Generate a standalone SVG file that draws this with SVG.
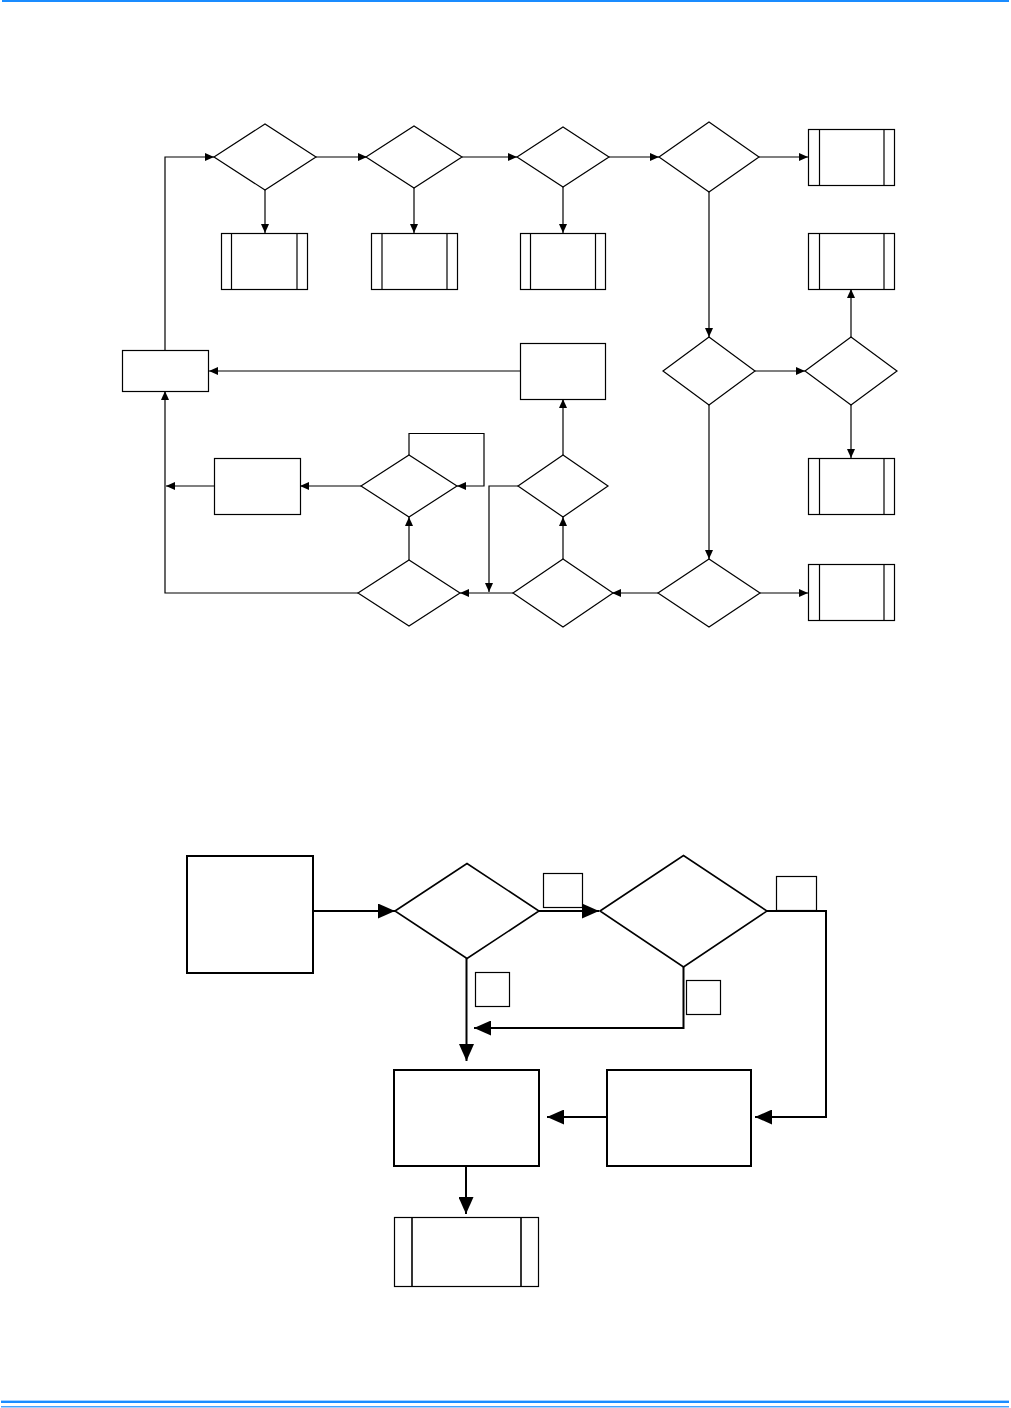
<svg xmlns="http://www.w3.org/2000/svg" width="1011" height="1408" viewBox="0 0 1011 1408">
<style>
.n{fill:#fff;stroke:#000;stroke-width:1.2}
.nb{fill:#fff;stroke:#000;stroke-width:2}
.nd{fill:#fff;stroke:#000;stroke-width:1.6}
.c{fill:none;stroke:#000;stroke-width:1.2}
.cb{fill:none;stroke:#000;stroke-width:2}
.in{stroke:#000;stroke-width:1.2}
.inb{stroke:#000;stroke-width:1.6}
</style>
<defs>
<marker id="a" viewBox="0 0 10 10" refX="10" refY="5" markerWidth="9" markerHeight="8" markerUnits="userSpaceOnUse" orient="auto" preserveAspectRatio="none"><path d="M0,0L10,5L0,10z" fill="#000"/></marker>
<marker id="ab" viewBox="0 0 10 10" refX="10" refY="5" markerWidth="17" markerHeight="15" markerUnits="userSpaceOnUse" orient="auto" preserveAspectRatio="none"><path d="M0,0L10,5L0,10z" fill="#000"/></marker>
</defs>
<rect x="2" y="0" width="1007" height="2" fill="#1a8cff"/>
<rect x="1" y="1400.6" width="1008" height="2.4" fill="#1a8cff"/>
<rect x="1" y="1406.2" width="1008" height="1.2" fill="#1a8cff"/>

<g id="connectors">
<path class="c" d="M165,351V157H214" marker-end="url(#a)"/>
<path class="c" d="M316,157H367" marker-end="url(#a)"/>
<path class="c" d="M462,157H517" marker-end="url(#a)"/>
<path class="c" d="M609,157H659" marker-end="url(#a)"/>
<path class="c" d="M759,157H808" marker-end="url(#a)"/>
<path class="c" d="M265,190V233" marker-end="url(#a)"/>
<path class="c" d="M414,188V233" marker-end="url(#a)"/>
<path class="c" d="M563,187V233" marker-end="url(#a)"/>
<path class="c" d="M709,192V337" marker-end="url(#a)"/>
<path class="c" d="M755,371H805" marker-end="url(#a)"/>
<path class="c" d="M851,337V289" marker-end="url(#a)"/>
<path class="c" d="M851,405V458" marker-end="url(#a)"/>
<path class="c" d="M709,405V559" marker-end="url(#a)"/>
<path class="c" d="M760,593H808" marker-end="url(#a)"/>
<path class="c" d="M658,593H612" marker-end="url(#a)"/>
<path class="c" d="M513,593H460" marker-end="url(#a)"/>
<path class="c" d="M563,559V517" marker-end="url(#a)"/>
<path class="c" d="M563,455V399" marker-end="url(#a)"/>
<path class="c" d="M520,371H209" marker-end="url(#a)"/>
<path class="c" d="M518,486H489V592" marker-end="url(#a)"/>
<path class="c" d="M409,560V517" marker-end="url(#a)"/>
<path class="c" d="M409,455V433.5H484V486H457" marker-end="url(#a)"/>
<path class="c" d="M361,486H300" marker-end="url(#a)"/>
<path class="c" d="M214,486H166" marker-end="url(#a)"/>
<path class="c" d="M358,593H165V391" marker-end="url(#a)"/>

<path class="cb" d="M313,911H395" marker-end="url(#ab)"/>
<path class="cb" d="M539,911H599" marker-end="url(#ab)"/>
<path class="cb" d="M466.5,958V1061" marker-end="url(#ab)"/>
<path class="cb" d="M683.5,967V1028H474" marker-end="url(#ab)"/>
<path class="cb" d="M767,911H826V1117H755" marker-end="url(#ab)"/>
<path class="cb" d="M607,1117H547" marker-end="url(#ab)"/>
<path class="cb" d="M466,1166V1214" marker-end="url(#ab)"/>
</g>

<g id="d1"><polygon class="n" points="214,157 265,124 316,157 265,190"/></g>
<g id="d2"><polygon class="n" points="366,157 414,126 462,157 414,188"/></g>
<g id="d3"><polygon class="n" points="517,157 563,127 609,157 563,187"/></g>
<g id="d4"><polygon class="n" points="659,157 709,122 759,157 709,192"/></g>
<g id="d5"><polygon class="n" points="663,371 709,337 755,371 709,405"/></g>
<g id="d6"><polygon class="n" points="805,371 851,337 897,371 851,405"/></g>
<g id="d7"><polygon class="n" points="658,593 709,559 760,593 709,627"/></g>
<g id="d8"><polygon class="n" points="513,593 563,559 613,593 563,627"/></g>
<g id="d9"><polygon class="n" points="358,593 409,560 460,593 409,626"/></g>
<g id="d10"><polygon class="n" points="518,486 563,455 608,486 563,517"/></g>
<g id="d11"><polygon class="n" points="361,486 409,455 457,486 409,517"/></g>

<g id="p1"><rect class="n" x="221.5" y="233.5" width="86" height="56"/><line class="in" x1="231.5" y1="233.5" x2="231.5" y2="289.5"/><line class="in" x1="297" y1="233.5" x2="297" y2="289.5"/></g>
<g id="p2"><rect class="n" x="371.5" y="233.5" width="86" height="56"/><line class="in" x1="382" y1="233.5" x2="382" y2="289.5"/><line class="in" x1="447" y1="233.5" x2="447" y2="289.5"/></g>
<g id="p3"><rect class="n" x="520.5" y="233.5" width="85" height="56"/><line class="in" x1="530.5" y1="233.5" x2="530.5" y2="289.5"/><line class="in" x1="595.5" y1="233.5" x2="595.5" y2="289.5"/></g>
<g id="p4"><rect class="n" x="808.5" y="129.5" width="86" height="56"/><line class="in" x1="819.5" y1="129.5" x2="819.5" y2="185.5"/><line class="in" x1="884" y1="129.5" x2="884" y2="185.5"/></g>
<g id="p5"><rect class="n" x="808.5" y="233.5" width="86" height="56"/><line class="in" x1="819.5" y1="233.5" x2="819.5" y2="289.5"/><line class="in" x1="884" y1="233.5" x2="884" y2="289.5"/></g>
<g id="p6"><rect class="n" x="808.5" y="458.5" width="86" height="56"/><line class="in" x1="819.5" y1="458.5" x2="819.5" y2="514.5"/><line class="in" x1="884" y1="458.5" x2="884" y2="514.5"/></g>
<g id="p7"><rect class="n" x="808.5" y="564.5" width="86" height="56"/><line class="in" x1="819.5" y1="564.5" x2="819.5" y2="620.5"/><line class="in" x1="884" y1="564.5" x2="884" y2="620.5"/></g>

<g id="b1"><rect class="n" x="122.5" y="350.5" width="86" height="41"/></g>
<g id="b2"><rect class="n" x="520.5" y="343.5" width="85" height="56"/></g>
<g id="b3"><rect class="n" x="214.5" y="458.5" width="86" height="56"/></g>

<g id="s1"><rect class="nb" x="187" y="856" width="126" height="117"/></g>
<g id="da"><polygon class="nd" points="395,911 467,863.5 539,911 467,958.5"/></g>
<g id="db"><polygon class="nd" points="600,911 683.5,855.5 767,911 683.5,967"/></g>
<g id="l1"><rect class="n" x="543.5" y="873.5" width="39" height="34"/></g>
<g id="l2"><rect class="n" x="776.5" y="876.5" width="40" height="34"/></g>
<g id="l3"><rect class="n" x="475.5" y="972.5" width="34" height="34"/></g>
<g id="l4"><rect class="n" x="686.5" y="980.5" width="34" height="34"/></g>
<g id="ra"><rect class="nb" x="394" y="1070" width="145" height="96"/></g>
<g id="rb"><rect class="nb" x="607" y="1070" width="144" height="96"/></g>
<g id="pb"><rect class="n" x="394.5" y="1217.5" width="144" height="69"/><line class="inb" x1="412" y1="1217.5" x2="412" y2="1286.5"/><line class="inb" x1="521" y1="1217.5" x2="521" y2="1286.5"/></g>
</svg>
